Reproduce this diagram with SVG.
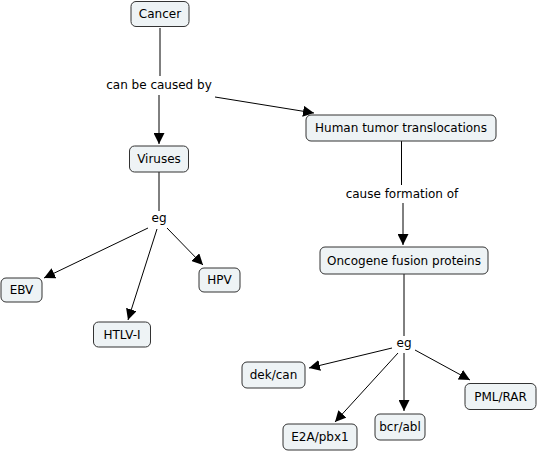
<svg xmlns="http://www.w3.org/2000/svg" width="538" height="453" viewBox="0 0 538 453">
<style>
.n rect{fill:#eef3f5;stroke:#333;stroke-width:1}
text{font-family:"DejaVu Sans",Verdana,sans-serif;font-size:12px;fill:#000;text-anchor:middle;dominant-baseline:central}
.c line{stroke:#000;stroke-width:1}
.c .a{marker-end:url(#ah)}
</style>
<defs>
<marker id="ah" viewBox="0 0 10 10" refX="10" refY="5" markerWidth="11" markerHeight="11" markerUnits="userSpaceOnUse" orient="auto">
<path d="M0,0 L10,5 L0,10 z" fill="#000"/>
</marker>
</defs>
<rect width="538" height="453" fill="#fff"/>
<g class="c">
<line x1="160" y1="28" x2="160" y2="76"/>
<line class="a" x1="159" y1="95" x2="159" y2="144"/>
<line class="a" x1="215" y1="97" x2="314" y2="113"/>
<line x1="401.5" y1="141" x2="401.5" y2="185"/>
<line class="a" x1="403" y1="203" x2="403" y2="245"/>
<line x1="159" y1="172" x2="159" y2="211"/>
<line class="a" x1="148" y1="228" x2="44" y2="278"/>
<line class="a" x1="157" y1="229" x2="128" y2="320"/>
<line class="a" x1="167" y1="228" x2="203" y2="265"/>
<line x1="404" y1="274" x2="404" y2="336"/>
<line class="a" x1="392" y1="348" x2="309" y2="368"/>
<line class="a" x1="398" y1="353" x2="335" y2="422"/>
<line class="a" x1="404" y1="353" x2="404" y2="411"/>
<line class="a" x1="415" y1="350" x2="470" y2="380"/>
</g>
<g id="lbl1"><text x="159" y="85">can be caused by</text></g>
<g id="lbl2"><text x="402" y="194">cause formation of</text></g>
<g id="lbl3"><text x="159" y="218">eg</text></g>
<g id="lbl4"><text x="404" y="343">eg</text></g>
<g id="cancer" class="n"><rect x="131" y="1.5" width="58" height="25" rx="5"/><text x="160" y="14">Cancer</text></g>
<g id="viruses" class="n"><rect x="129.5" y="146" width="59" height="26" rx="5"/><text x="159" y="159">Viruses</text></g>
<g id="human" class="n"><rect x="306" y="115" width="190" height="26" rx="5"/><text x="401" y="128">Human tumor translocations</text></g>
<g id="oncogene" class="n"><rect x="320" y="247" width="168" height="27" rx="5"/><text x="404" y="260.5">Oncogene fusion proteins</text></g>
<g id="ebv" class="n"><rect x="1" y="278" width="41" height="24" rx="5"/><text x="21.5" y="290">EBV</text></g>
<g id="htlv" class="n"><rect x="93.5" y="322" width="57" height="25" rx="5"/><text x="122" y="334.5">HTLV-I</text></g>
<g id="hpv" class="n"><rect x="199" y="268" width="41" height="24" rx="5"/><text x="219.5" y="280">HPV</text></g>
<g id="dekcan" class="n"><rect x="242" y="362" width="63" height="26" rx="5"/><text x="273.5" y="375">dek/can</text></g>
<g id="e2a" class="n"><rect x="283" y="424" width="74" height="26" rx="5"/><text x="320" y="437">E2A/pbx1</text></g>
<g id="bcrabl" class="n"><rect x="375" y="414" width="50" height="26" rx="5"/><text x="400" y="427">bcr/abl</text></g>
<g id="pmlrar" class="n"><rect x="465" y="383.5" width="71" height="26" rx="5"/><text x="500.5" y="396.5">PML/RAR</text></g>
</svg>
